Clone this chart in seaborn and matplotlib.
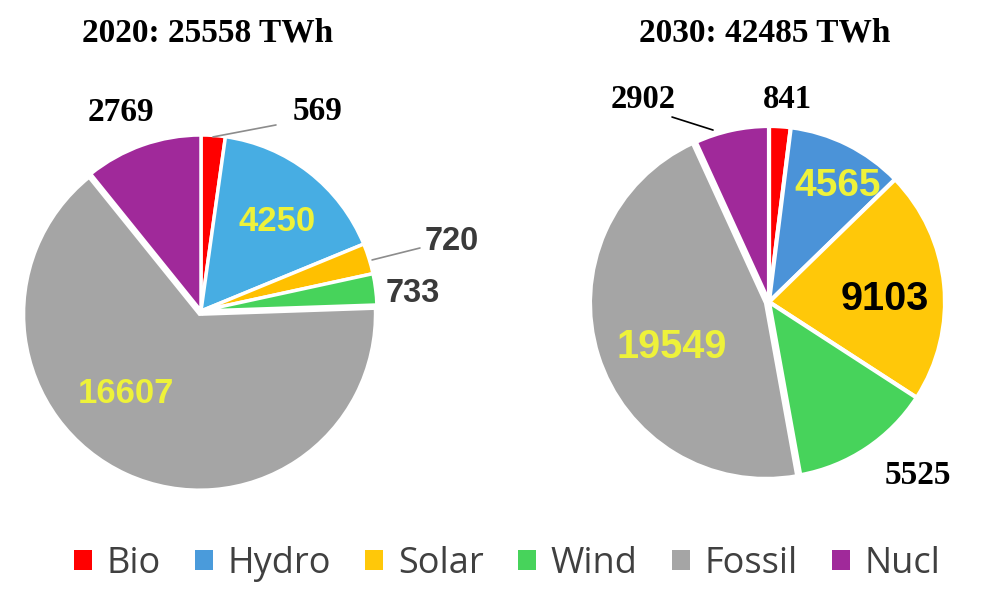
import matplotlib
matplotlib.use("Agg")
import matplotlib.pyplot as plt
import seaborn as sns
from matplotlib.patches import Patch

# ---- data ----
categories = ["Bio", "Hydro", "Solar", "Wind", "Fossil", "Nucl"]
values_2020 = [569, 4250, 720, 733, 16607, 2769]
values_2030 = [841, 4565, 9103, 5525, 19549, 2902]
titles = ["2020: 25558 TWh", "2030: 42485 TWh"]

# ---- style ----
sns.set_theme(style="white")
colors_left = sns.color_palette(["#FF0000", "#47ADE3", "#FFC000", "#47D35B", "#A5A5A5", "#A0299A"])
colors_right = sns.color_palette(["#FF0000", "#4B93D8", "#FFC809", "#47D35B", "#A5A5A5", "#A0299A"])
legend_colors = ["#FF0000", "#4A9BDB", "#FFC809", "#47D35B", "#A5A5A5", "#A0299A"]

W, H = 1000, 595
fig = plt.figure(figsize=(W / 100, H / 100), dpi=100)
R = 176.0  # pie radius in pixels

def make_axes(cx, cy, x0, x1, y0, y1):
    ax = fig.add_axes([x0 / W, 1 - y1 / H, (x1 - x0) / W, (y1 - y0) / H])
    return ax

def fix_limits(ax, cx, cy, x0, x1, y0, y1):
    ax.set_xlim((x0 - cx) / R, (x1 - cx) / R)
    ax.set_ylim((cy - y1) / R, (cy - y0) / R)
    ax.set_aspect("auto")
    ax.axis("off")

serif = "Liberation Serif"
sans = "Liberation Sans"
yellow = "#EEF23A"

# ---------- left pie ----------
boxL = (201, 311, 0, 500, 60, 530)
axL = make_axes(*boxL)
explodeL = [0.0, 0.0, 0.0, 0.0, 0.02, 0.0]
axL.pie(values_2020, colors=colors_left, startangle=90, counterclock=False,
        explode=explodeL, radius=1.0,
        wedgeprops=dict(edgecolor="white", linewidth=2.5))
fix_limits(axL, *boxL)

fig.text(208 / W, 1 - 33 / H, titles[0], ha="center", va="center",
         fontsize=24, fontweight="bold", family=serif, color="black")

labL = [
    (0.665, 1.153, serif, 24, "black"),     # Bio 569
    (0.432, 0.528, sans, 25, yellow),       # Hydro 4250
    (1.426, 0.415, sans, 23.5, "#3A3A3A"),  # Solar 720
    (1.205, 0.119, sans, 23.5, "#3A3A3A"),  # Wind 733
    (-0.426, -0.449, sans, 25, yellow),     # Fossil 16607
    (-0.455, 1.148, serif, 24, "black"),    # Nucl 2769
]
for v, (x, y, fam, fs, col) in zip(values_2020, labL):
    axL.text(x, y, f"{v}", ha="center", va="center_baseline", family=fam,
             fontsize=fs, fontweight="bold", color=col)
axL.plot([0.068, 0.426], [0.989, 1.057], color="#8C8C8C", lw=1.2)
axL.plot([0.972, 1.244], [0.290, 0.358], color="#8C8C8C", lw=1.2)

# ---------- right pie ----------
boxR = (769, 302, 500, 1000, 50, 520)
axR = make_axes(*boxR)
explodeR = [0.0, 0.0, 0.0, 0.0, 0.018, 0.0]
axR.pie(values_2030, colors=colors_right, startangle=90, counterclock=False,
        explode=explodeR, radius=1.0,
        wedgeprops=dict(edgecolor="white", linewidth=3))
fix_limits(axR, *boxR)

fig.text(765 / W, 1 - 33 / H, titles[1], ha="center", va="center",
         fontsize=24, fontweight="bold", family=serif, color="black")

labR = [
    (0.102, 1.170, serif, 23.5, "black"),   # Bio 841
    (0.392, 0.682, sans, 28, yellow),       # Hydro 4565
    (0.659, 0.040, sans, 28.5, "black"),    # Solar 9103
    (0.847, -0.966, serif, 24, "black"),    # Wind 5525
    (-0.551, -0.233, sans, 28.5, yellow),   # Fossil 19549
    (-0.716, 1.170, serif, 23.5, "black"),  # Nucl 2902
]
for v, (x, y, fam, fs, col) in zip(values_2030, labR):
    axR.text(x, y, f"{v}", ha="center", va="center_baseline", family=fam,
             fontsize=fs, fontweight="bold", color=col)
axR.plot([-0.551, -0.318], [1.051, 0.977], color="black", lw=1.2)

# ---------- legend ----------
handles = [Patch(facecolor=c, edgecolor="none", label=l)
           for c, l in zip(legend_colors, categories)]
leg = fig.legend(handles=handles, loc="center", bbox_to_anchor=(507 / W, 1 - 564 / H),
                 ncol=6, frameon=False,
                 prop={"family": "Open Sans", "size": 26},
                 handlelength=0.5, handleheight=0.5, handletextpad=0.4,
                 columnspacing=0.95, borderpad=0)
for t in leg.get_texts():
    t.set_color("#404040")

fig.savefig("out.png", dpi=100, facecolor="white")
